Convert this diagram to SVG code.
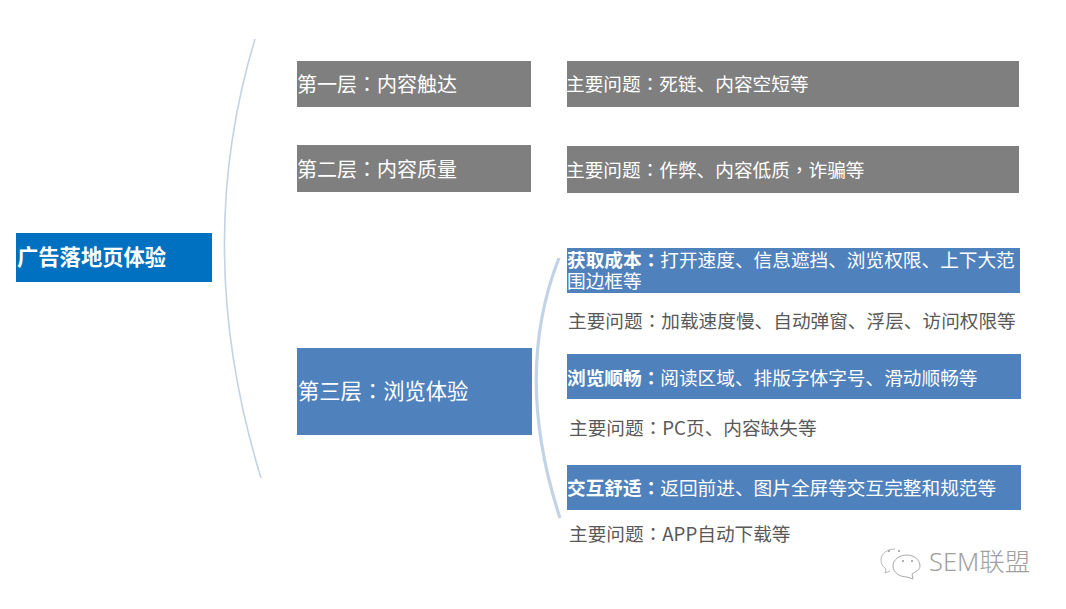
<svg xmlns="http://www.w3.org/2000/svg" width="1066" height="609" viewBox="0 0 1066 609">
<style>
text{font-family:"Noto Sans CJK SC","Noto Sans",sans-serif}
.w{fill:#fff;font-size:20px}
.l{fill:#fff;font-size:21.3px}
.s{fill:#fff;font-size:18.67px}
.q{fill:#595959;font-size:18.67px}
.b{font-weight:700}
.p{font-family:"Noto Sans CJK TC","Noto Sans",sans-serif}
.grey{fill:#7f7f7f}
.blue{fill:#4f81bd}
.c{fill:none;stroke:#c3d3e6}
</style>
<rect width="1066" height="609" fill="#fff"/>
<g id="connectors">
<path class="c" stroke-width="1.6" d="M255 39Q191 250 261 478"/>
<path class="c" stroke-width="3.2" d="M559 258Q513 375 560 518"/>
</g>
<g id="root"><rect x="16" y="233" width="196" height="49" fill="#0070c0"/><text x="17" y="265" class="b" fill="#fff" font-size="21.3">广告落地页体验</text></g>
<g id="layer1"><rect class="grey" x="297" y="61" width="234" height="46"/><text class="w" x="297" y="92">第一层<tspan class="p">：</tspan>内容触达</text></g>
<g id="layer2"><rect class="grey" x="297" y="145" width="234" height="47"/><text class="w" x="297" y="177">第二层<tspan class="p">：</tspan>内容质量</text></g>
<g id="layer3"><rect class="blue" x="297" y="348" width="235" height="87"/><text class="l" x="298" y="399">第三层<tspan class="p">：</tspan>浏览体验</text></g>
<g id="issue1"><rect class="grey" x="567" y="61" width="452" height="46"/><text class="s" x="566" y="91">主要问题<tspan class="p">：</tspan>死链、内容空短等</text></g>
<g id="issue2"><rect class="grey" x="567" y="146" width="452" height="47"/><text class="s" x="566" y="177">主要问题<tspan class="p">：</tspan>作弊、内容低质<tspan class="p">，</tspan>诈骗等</text></g>
<g id="cost"><rect class="blue" x="567" y="248" width="453" height="45"/><text class="s" x="567" y="267"><tspan class="b">获取成本<tspan class="p">：</tspan></tspan>打开速度、信息遮挡、浏览权限、上下大范<tspan x="567" y="288">围边框等</tspan></text></g>
<g id="cost-issue"><text class="q" x="568" y="328">主要问题<tspan class="p">：</tspan>加载速度慢、自动弹窗、浮层、访问权限等</text></g>
<g id="smooth"><rect class="blue" x="567" y="354" width="454" height="45"/><text class="s" x="567" y="385"><tspan class="b">浏览顺畅<tspan class="p">：</tspan></tspan>阅读区域、排版字体字号、滑动顺畅等</text></g>
<g id="smooth-issue"><text class="q" x="569" y="435">主要问题<tspan class="p">：</tspan>PC页、内容缺失等</text></g>
<g id="interact"><rect class="blue" x="567" y="465" width="454" height="45"/><text class="s" x="567" y="495"><tspan class="b">交互舒适<tspan class="p">：</tspan></tspan>返回前进、图片全屏等交互完整和规范等</text></g>
<g id="interact-issue"><text class="q" x="569" y="541">主要问题<tspan class="p">：</tspan>APP自动下载等</text></g>
<g id="watermark">
<path d="M895 549c-8 0-14 5-14 11 0 4 2 7 5 9l-1 4 5-2" fill="none" stroke="#b8b8b8" stroke-width="1"/>
<path d="M907 555c-8 0-14 5-14 11s6 11 14 11l6 2-1-5c3-2 8-4 8-8 0-6-6-11-13-11z" fill="#fff" stroke="#a8a8a8" stroke-width="1"/>
<circle cx="889" cy="551" r="1" fill="#999"/><circle cx="899" cy="551" r="1" fill="#999"/>
<circle cx="903" cy="561" r="1" fill="#999"/><circle cx="912" cy="561" r="1" fill="#999"/>
<text x="929" y="571" fill="#a0a0a0" style="font-size:25.5px;font-family:'Noto Sans','Noto Sans CJK SC',sans-serif;font-weight:300">SEM联盟</text>
</g>
</svg>
